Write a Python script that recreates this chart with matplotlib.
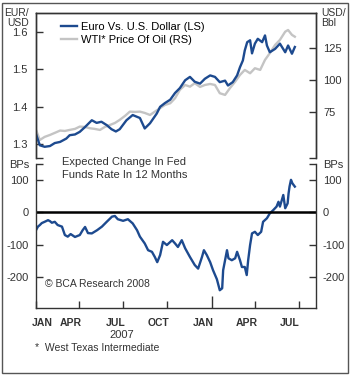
import matplotlib
matplotlib.use('Agg')
import matplotlib.pyplot as plt
import matplotlib.patches as patches
import pandas as pd

plt.rcParams['font.family'] = ['Liberation Sans', 'DejaVu Sans']

# Euro vs U.S. Dollar (left scale)
eur_dates = ['2007-01-01', '2007-01-09', '2007-01-19', '2007-01-30', '2007-02-09', '2007-02-20',
             '2007-03-05', '2007-03-12', '2007-03-23', '2007-04-02', '2007-04-13', '2007-04-27',
             '2007-05-07', '2007-05-17', '2007-05-28', '2007-06-07', '2007-06-16', '2007-06-24',
             '2007-07-08', '2007-07-21', '2007-08-05', '2007-08-15', '2007-08-26', '2007-09-09',
             '2007-09-16', '2007-09-26', '2007-10-07', '2007-10-17', '2007-10-27', '2007-11-07',
             '2007-11-17', '2007-11-27', '2007-12-08', '2007-12-18', '2007-12-29', '2008-01-08',
             '2008-01-18', '2008-01-29', '2008-02-04', '2008-02-14', '2008-02-23', '2008-02-29',
             '2008-03-06', '2008-03-10', '2008-03-15', '2008-03-21', '2008-03-25', '2008-03-31',
             '2008-04-06', '2008-04-15', '2008-04-21', '2008-04-25', '2008-05-01', '2008-05-12',
             '2008-05-22', '2008-06-02', '2008-06-08', '2008-06-16', '2008-06-22']
eur_usd = [1.327, 1.297, 1.293, 1.295, 1.303, 1.306,
           1.315, 1.324, 1.326, 1.333, 1.346, 1.364,
           1.357, 1.360, 1.351, 1.340, 1.334, 1.340,
           1.364, 1.378, 1.370, 1.342, 1.356, 1.382,
           1.400, 1.410, 1.419, 1.437, 1.450, 1.471,
           1.480, 1.467, 1.462, 1.475, 1.484, 1.480,
           1.466, 1.470, 1.457, 1.466, 1.484, 1.506,
           1.524, 1.551, 1.573, 1.578, 1.543, 1.569,
           1.582, 1.573, 1.591, 1.564, 1.546, 1.555,
           1.569, 1.546, 1.564, 1.542, 1.560]

# WTI price of oil (right scale)
oil_dates = ['2007-01-01', '2007-01-09', '2007-01-19', '2007-01-30', '2007-02-09', '2007-02-20',
             '2007-03-02', '2007-03-12', '2007-03-23', '2007-04-02', '2007-04-13', '2007-04-23',
             '2007-05-03', '2007-05-14', '2007-05-24', '2007-06-04', '2007-06-14', '2007-06-24',
             '2007-07-05', '2007-07-15', '2007-07-26', '2007-08-05', '2007-08-15', '2007-08-26',
             '2007-09-05', '2007-09-16', '2007-09-26', '2007-10-07', '2007-10-17', '2007-10-27',
             '2007-11-07', '2007-11-17', '2007-11-27', '2007-12-08', '2007-12-18', '2007-12-29',
             '2008-01-08', '2008-01-18', '2008-01-29', '2008-02-08', '2008-02-19', '2008-02-29',
             '2008-03-10', '2008-03-21', '2008-03-31', '2008-04-11', '2008-04-21', '2008-05-01',
             '2008-05-12', '2008-05-22', '2008-06-02', '2008-06-08', '2008-06-16', '2008-06-22']
oil_price = [61.1, 53.3, 55.7, 57.2, 58.8, 60.6,
             60.3, 61.1, 61.9, 63.7, 63.4, 62.4,
             61.9, 61.1, 63.4, 65.0, 66.5, 68.9,
             72.0, 75.3, 75.1, 75.3, 74.3, 72.7,
             75.3, 78.0, 80.5, 81.8, 85.7, 92.2,
             96.0, 94.7, 97.4, 94.5, 96.0, 96.8,
             96.0, 89.6, 88.3, 93.5, 98.6, 103.8,
             107.7, 105.1, 109.0, 107.7, 115.5, 120.7,
             127.1, 131.0, 137.4, 138.7, 134.9, 133.5]

# Expected change in Fed funds rate in 12 months (BPs)
fed_dates = ['2007-01-01', '2007-01-05', '2007-01-09', '2007-01-13', '2007-01-19', '2007-01-26',
             '2007-01-30', '2007-02-03', '2007-02-09', '2007-02-15', '2007-02-24', '2007-03-02',
             '2007-03-08', '2007-03-14', '2007-03-23', '2007-04-02', '2007-04-08', '2007-04-13',
             '2007-04-19', '2007-04-27', '2007-05-08', '2007-05-18', '2007-05-28', '2007-06-08',
             '2007-06-14', '2007-06-20', '2007-07-01', '2007-07-11', '2007-07-21', '2007-07-30',
             '2007-08-05', '2007-08-15', '2007-08-22', '2007-08-30', '2007-09-05', '2007-09-10',
             '2007-09-16', '2007-09-22', '2007-09-30', '2007-10-11', '2007-10-17', '2007-10-23',
             '2007-10-31', '2007-11-07', '2007-11-17', '2007-11-27', '2007-12-04', '2007-12-12',
             '2007-12-16', '2007-12-22', '2007-12-29', '2008-01-04', '2008-01-12', '2008-01-18',
             '2008-01-23', '2008-01-25', '2008-01-29', '2008-02-02', '2008-02-05', '2008-02-12',
             '2008-02-19', '2008-02-23', '2008-02-29', '2008-03-04', '2008-03-10', '2008-03-14',
             '2008-03-17', '2008-03-21', '2008-03-25', '2008-03-31', '2008-04-06', '2008-04-13',
             '2008-04-17', '2008-04-25', '2008-05-01', '2008-05-08', '2008-05-15', '2008-05-19',
             '2008-05-22', '2008-05-29', '2008-06-02', '2008-06-07', '2008-06-09', '2008-06-11',
             '2008-06-14', '2008-06-17', '2008-06-22']
fed_bps = [-55, -44, -39, -33, -29, -24,
           -27, -32, -29, -39, -44, -70,
           -75, -67, -76, -70, -55, -45,
           -64, -65, -55, -44, -29, -13,
           -11, -21, -26, -21, -34, -55,
           -75, -96, -117, -122, -138, -154,
           -132, -91, -101, -86, -96, -107,
           -86, -111, -138, -163, -174, -138,
           -117, -132, -154, -179, -207, -241,
           -235, -179, -148, -117, -142, -148,
           -142, -122, -148, -169, -169, -194,
           -148, -101, -65, -60, -70, -60,
           -29, -18, -3, 7, 18, 33,
           18, 54, 13, 28, 59, 80,
           101, 90, 80]

x_ticks = ['2007-01-01', '2007-04-01', '2007-07-01', '2007-10-01',
           '2008-01-01', '2008-04-01', '2008-07-01']
x_label_pos = ['2007-01-15', '2007-03-14', '2007-06-16', '2007-09-13',
               '2007-12-14', '2008-03-14', '2008-06-12']
x_labels = ['JAN', 'APR', 'JUL', 'OCT', 'JAN', 'APR', 'JUL']

blue = '#1d4a8f'
grey = '#c4c4c4'
ink = '#333333'

W, H = 350, 376
fig = plt.figure(figsize=(W / 100, H / 100), dpi=100)
fig.patch.set_facecolor('white')
fig.patches.append(patches.Rectangle((2 / W, 3 / H), 346 / W, 370 / H, fill=False,
                                     edgecolor='#555555', lw=1.0, transform=fig.transFigure))

ax1 = fig.add_axes([36 / W, 1 - 158 / H, 280 / W, 145 / H])
ax2 = ax1.twinx()
ax3 = fig.add_axes([36 / W, 1 - 308 / H, 280 / W, 144 / H])

xmin, xmax = pd.Timestamp('2007-01-01'), pd.Timestamp('2008-08-05')

l2, = ax2.plot(pd.to_datetime(oil_dates), oil_price, color=grey, lw=1.7,
               label='WTI* Price Of Oil (RS)')
l1, = ax1.plot(pd.to_datetime(eur_dates), eur_usd, color=blue, lw=1.7,
               label='Euro Vs. U.S. Dollar (LS)')
ax1.set_zorder(ax2.get_zorder() + 1)
ax1.patch.set_visible(False)

ax1.set_xlim(xmin, xmax)
ax1.set_ylim(1.263, 1.651)
ax1.set_yticks([1.263, 1.3, 1.4, 1.5, 1.6])
ax1.set_yticklabels(['', '1.3', '1.4', '1.5', '1.6'])
ax2.set_ylim(39.3, 151.9)
ax2.set_yticks([39.3, 75, 100, 125])
ax2.set_yticklabels(['', '75', '100', '125'])

for a in (ax1, ax2):
    a.spines['bottom'].set_visible(False)
    a.tick_params(axis='x', bottom=False, labelbottom=False)
    for s in a.spines.values():
        s.set_color(ink)
        s.set_linewidth(1.0)
ax1.tick_params(axis='y', direction='in', length=5, width=1, colors=ink, labelsize=8, pad=6)
ax2.tick_params(axis='y', direction='in', length=5, width=1, colors=ink, labelsize=8, pad=5)

ax1.legend(handles=[l1, l2], loc='upper left', bbox_to_anchor=(0.088, 0.94), frameon=False,
           fontsize=8, handlelength=1.45, handletextpad=0.35, labelspacing=0.3,
           borderpad=0, borderaxespad=0)

# bottom panel
ax3.plot(pd.to_datetime(fed_dates), fed_bps, color=blue, lw=1.7)
ax3.axhline(0, color='black', lw=1.8)
ax3.set_xlim(xmin, xmax)
ax3.set_ylim(-296, 150)
ax3.set_yticks([-200, -100, 0, 100, 150])
ax3.set_yticklabels(['-200', '-100', '0', '100', 'BPs'])
ax3.spines['top'].set_visible(False)
for s in ax3.spines.values():
    s.set_color(ink)
    s.set_linewidth(1.0)
ax3.tick_params(axis='y', direction='in', length=5, width=1, colors=ink, labelsize=8,
                left=True, right=True, labelleft=True, labelright=True, pad=5)

ax3.set_xticks(pd.to_datetime(x_ticks))
ax3.set_xticklabels([''] * len(x_ticks))
ax3.set_xticks(pd.to_datetime(x_label_pos), minor=True)
ax3.set_xticklabels(x_labels, minor=True, fontsize=7.5, fontweight='bold')
ax3.tick_params(axis='x', which='major', direction='in', length=5, width=1, colors=ink)
ax3.tick_params(axis='x', which='minor', length=0, pad=7, colors=ink)
ax3.xaxis.get_major_ticks()[4].tick1line.set_markersize(9)

fig.text(62 / W, 1 - 157 / H, 'Expected Change In Fed\nFunds Rate In 12 Months',
         ha='left', va='top', fontsize=8, color=ink, linespacing=1.4)
fig.text(45 / W, 1 - 284 / H, '\u00a9 BCA Research 2008', ha='left', va='center',
         fontsize=7.5, color=ink)

fig.text(29 / W, 1 - 8 / H, 'EUR/\nUSD', ha='right', va='top', fontsize=7.5,
         color=ink, linespacing=1.0)
fig.text(321 / W, 1 - 8 / H, 'USD/\nBbl', ha='left', va='top', fontsize=7.5,
         color=ink, linespacing=1.0)
fig.text(122 / W, 1 - 335 / H, '2007', ha='center', va='center', fontsize=8, color=ink)
fig.text(35 / W, 1 - 348 / H, '*  West Texas Intermediate', ha='left', va='center',
         fontsize=7.5, color=ink)

fig.savefig('out.png', dpi=100)
